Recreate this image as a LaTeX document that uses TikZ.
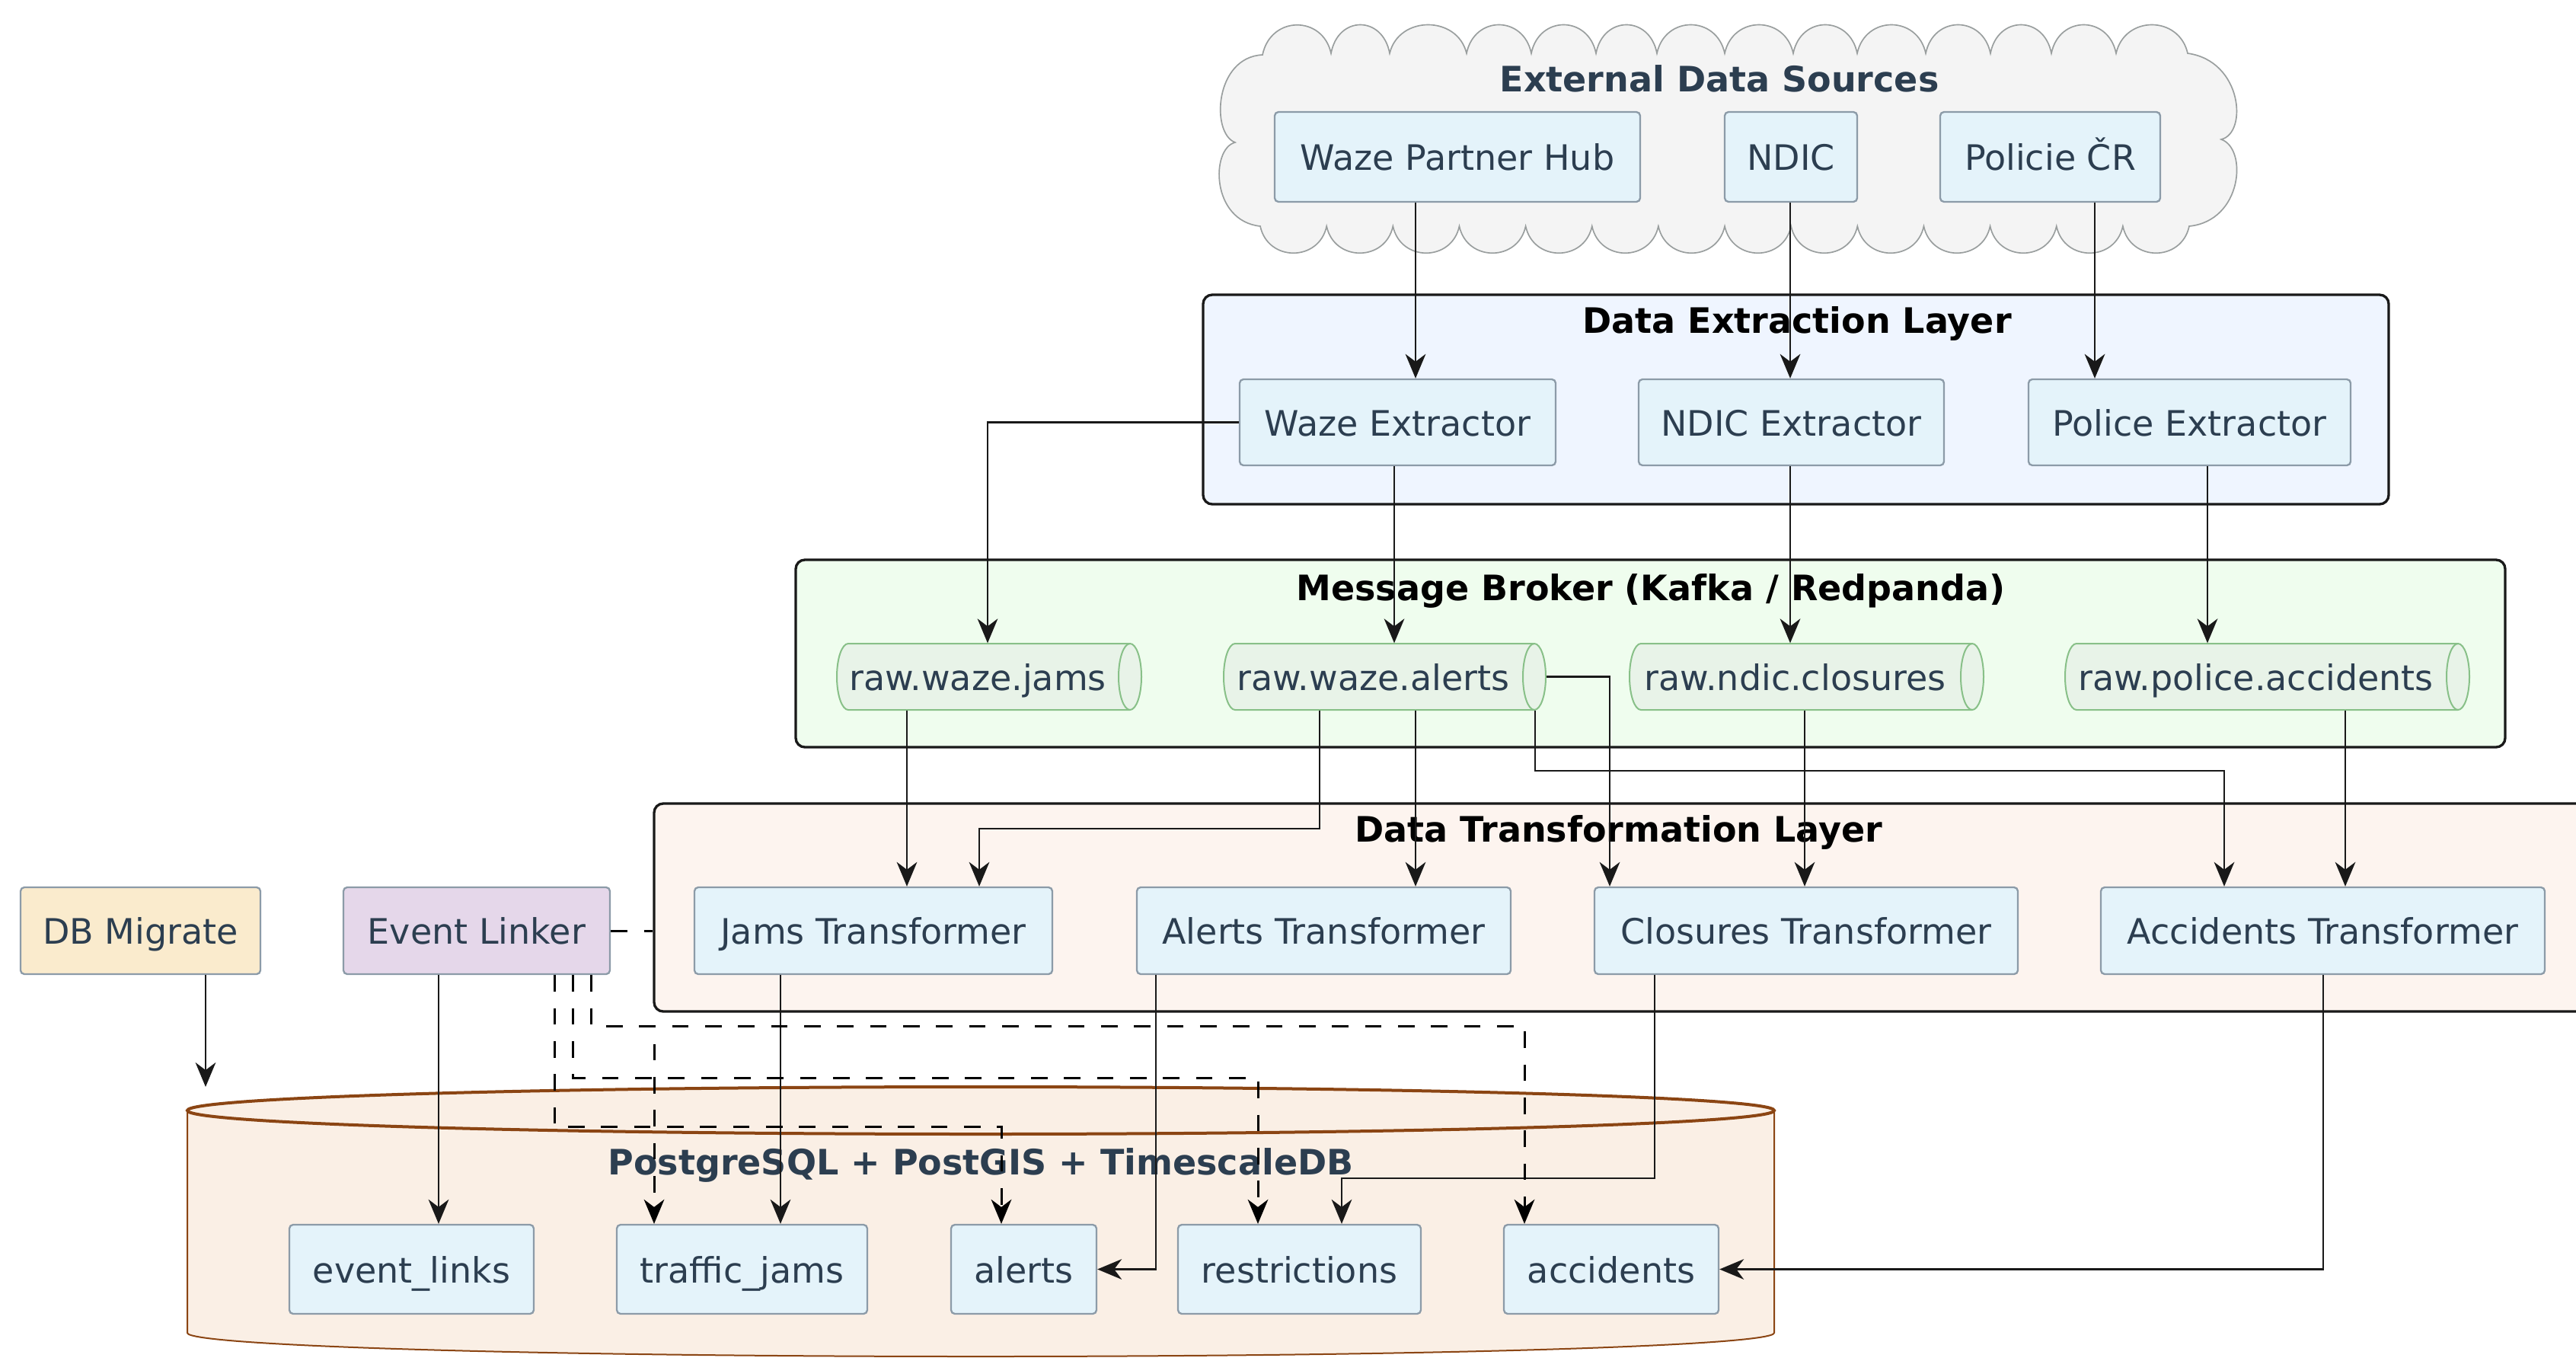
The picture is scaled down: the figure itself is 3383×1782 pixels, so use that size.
\documentclass[tikz,border=0pt]{standalone}
\usepackage{fontspec}
\setmainfont{DejaVu Sans}
\usetikzlibrary{arrows.meta}
\definecolor{txt}{HTML}{2C3E50}
\definecolor{nodefill}{HTML}{E4F3FA}
\definecolor{nodeborder}{HTML}{8C9BA8}
\definecolor{cloudfill}{HTML}{F4F4F4}
\definecolor{cloudline}{HTML}{999E9E}
\definecolor{extfill}{HTML}{EFF5FF}
\definecolor{brokerfill}{HTML}{EFFDEE}
\definecolor{queuefill}{HTML}{E8F3E8}
\definecolor{queueline}{HTML}{88C088}
\definecolor{transfill}{HTML}{FDF4EF}
\definecolor{migfill}{HTML}{FAEBCD}
\definecolor{linkfill}{HTML}{E5D7EA}
\definecolor{dbfill}{HTML}{FAEFE5}
\definecolor{dbline}{HTML}{8B4513}
\newcommand\bx[7]{\node[#1, minimum width={(#5-#3)*0.3pt}, minimum height={(#6-#4)*0.3pt}] (#2) at ({(#3+#5)/2},{(#4+#6)/2}) {#7};}
\newcommand\queue[4]{%
  \filldraw[fill=queuefill, draw=queueline, line width=0.6pt]
    ({#2+15},845) -- ({#3-15},845) arc[start angle=90, end angle=-90, x radius=4.5pt, y radius=13.05pt]
    -- ({#2+15},932) arc[start angle=270, end angle=90, x radius=4.5pt, y radius=13.05pt] -- cycle;
  \draw[draw=queueline, line width=0.6pt] ({#3-15},845) arc[start angle=90, end angle=270, x radius=4.5pt, y radius=13.05pt];
  \node[qtext, minimum width={(#3-#2-30)*0.3pt}, minimum height={87*0.3pt}] (#1) at ({(#2+#3-30)/2},888.5) {#4};}
\begin{document}
\begin{tikzpicture}[x=0.3pt,y=-0.3pt,
  box/.style={draw=nodeborder, fill=nodefill, line width=0.7pt, rounded corners=1.5pt, text=txt, font=\fontsize{13.8}{16}\selectfont, inner sep=0pt, text height=11.8pt, text depth=1.2pt},
  qtext/.style={inner sep=0pt, text=txt, font=\fontsize{13.8}{16}\selectfont, text height=11.8pt, text depth=1.2pt},
  arr/.style={draw=black!90, line width=0.8pt, -{Stealth[length=9.6pt,width=8pt,inset=3pt]}},
  dsh/.style={arr, draw=black, line width=0.9pt, dash pattern=on 6.5pt off 6.5pt},
  pkg/.style={draw=black!90, line width=1pt, rounded corners=3.6pt, inner sep=0pt},
  ptitle/.style={font=\fontsize{13.8}{16}\selectfont\bfseries, text=black, inner sep=0pt, text height=11.8pt, text depth=1.2pt},
]
\useasboundingbox (0,0) rectangle (3383,1782);
\fill[white] (0,0) rectangle (3383,1782);

% ---- cloud
\filldraw[fill=cloudfill, draw=cloudline, line width=0.5pt]
  (1658,72)
  foreach \a/\b in {1658/1748,1748/1825,1825/1926,1926/2011,2011/2096,2096/2176,2176/2265,2265/2355,2355/2439,2439/2529,2529/2614,2614/2694,2694/2779,2779/2873}
    { .. controls ({\a+0.12*(\b-\a)},20) and ({\b-0.12*(\b-\a)},20) .. (\b,70) }
  .. controls (2945,80) and (2952,175) .. (2917,183)
  .. controls (2952,195) and (2945,290) .. (2875,297)
  foreach \i in {0,...,13}
    { .. controls ({2875-\i*87.14-10},344) and ({2875-(\i+1)*87.14+10},344) .. ({2875-(\i+1)*87.14},297) }
  .. controls (1590,290) and (1590,195) .. (1622,187)
  .. controls (1590,175) and (1595,75) .. (1658,72) -- cycle;
\node[ptitle, text=txt] (exttitle) at (2258,103) {External Data Sources};
\bx{box}{hub}{1674}{147}{2154}{265}{Waze Partner Hub}
\bx{box}{ndic}{2265}{147}{2439}{265}{NDIC}
\bx{box}{pol}{2548}{147}{2837}{265}{Policie ČR}

% ---- extraction layer
\bx{pkg, fill=extfill}{extl}{1580}{387}{3137}{662}{}
\node[ptitle] (extltitle) at (2360,420) {Data Extraction Layer};
\bx{box}{wext}{1628}{498}{2043}{611}{Waze Extractor}
\bx{box}{next}{2152}{498}{2553}{611}{NDIC Extractor}
\bx{box}{pext}{2664}{498}{3087}{611}{Police Extractor}

% ---- broker
\bx{pkg, fill=brokerfill}{broker}{1045}{735}{3290}{981}{}
\node[ptitle] (brokertitle) at (2168,771) {Message Broker (Kafka / Redpanda)};
\queue{qjams}{1099}{1499}{raw.waze.jams}
\queue{qalerts}{1607}{2030}{raw.waze.alerts}
\queue{qclos}{2140}{2605}{raw.ndic.closures}
\queue{qacc}{2712}{3243}{raw.police.accidents}

% ---- transformation layer
\bx{pkg, fill=transfill}{trans}{859}{1055}{3400}{1328}{}
\node[ptitle] (transtitle) at (2126,1088) {Data Transformation Layer};
\bx{box}{jtr}{912}{1165}{1382}{1279}{Jams Transformer}
\bx{box}{atr}{1493}{1165}{1984}{1279}{Alerts Transformer}
\bx{box}{ctr}{2094}{1165}{2650}{1279}{Closures Transformer}
\bx{box}{actr}{2759}{1165}{3342}{1279}{Accidents Transformer}

\bx{box, fill=migfill}{dbm}{27}{1165}{342}{1279}{DB Migrate}
\bx{box, fill=linkfill}{evl}{451}{1165}{801}{1279}{Event Linker}

% ---- database
\fill[dbfill] (246,1458) -- (246,1750) arc[start angle=180, end angle=360, x radius=312.6pt, y radius=9.3pt] -- (2330,1458) -- cycle;
\draw[dbline, line width=0.6pt] (246,1458) -- (246,1750) arc[start angle=180, end angle=360, x radius=312.6pt, y radius=9.3pt] -- (2330,1458);
\draw[dbline, line width=1.2pt, fill=dbfill] (1288,1458) ellipse[x radius=312.6pt, y radius=9.3pt];
\coordinate (dbtop) at (1288,1427);
\node[ptitle, text=txt] (dbtitle) at (1288,1525) {PostgreSQL + PostGIS + TimescaleDB};
\bx{box}{tev}{380}{1608}{701}{1725}{event\_links}
\bx{box}{ttj}{810}{1608}{1139}{1725}{traffic\_jams}
\bx{box}{tal}{1249}{1608}{1440}{1725}{alerts}
\bx{box}{tre}{1547}{1608}{1866}{1725}{restrictions}
\bx{box}{tac}{1975}{1608}{2257}{1725}{accidents}

% ---- connectors
\draw[arr] (hub.south -| 1859,0) -- (wext.north -| 1859,0);
\draw[arr] (ndic.south -| 2351,0) -- (next.north -| 2351,0);
\draw[arr] (pol.south -| 2751,0) -- (pext.north -| 2751,0);
\draw[arr] (wext.west) -| (qjams.north -| 1297,0);
\draw[arr] (wext.south -| 1831,0) -- (qalerts.north -| 1831,0);
\draw[arr] (next.south -| 2351,0) -- (qclos.north -| 2351,0);
\draw[arr] (pext.south -| 2899,0) -- (qacc.north -| 2899,0);

\draw[arr] (qjams.south -| 1191,0) -- (jtr.north -| 1191,0);
\draw[arr] (qalerts.south -| 1733,0) |- (1286,1088) -- (jtr.north -| 1286,0);
\draw[arr] (qalerts.south -| 1859,0) -- (atr.north -| 1859,0);
\draw[arr] ([xshift=9pt]qalerts.east) -| (ctr.north -| 2114,0);
\draw[arr] (qalerts.south -| 2016,0) |- (2921,1012) -- (actr.north -| 2921,0);
\draw[arr] (qclos.south -| 2370,0) -- (ctr.north -| 2370,0);
\draw[arr] (qacc.south -| 3080,0) -- (actr.north -| 3080,0);

\draw[black, line width=0.9pt, dash pattern=on 6.5pt off 6.5pt] (evl.east) -- (evl.east -| trans.west);
\draw[arr] (dbm.south -| 270,0) -- (dbtop -| 270,0);
\draw[arr] (evl.south -| 576,0) -- (tev.north -| 576,0);
\draw[arr] (jtr.south -| 1025,0) -- (ttj.north -| 1025,0);
\draw[arr] (atr.south -| 1518,0) |- (tal.east);
\draw[arr] (ctr.south -| 2173,0) |- (1762,1547) -- (tre.north -| 1762,0);
\draw[arr] (actr.south -| 3051,0) |- (tac.east);

\draw[dsh] (evl.south -| 728,0) |- (1315,1479) -- (tal.north -| 1315,0);
\draw[dsh] (evl.south -| 752,0) |- (1652,1415) -- (tre.north -| 1652,0);
\draw[dsh] (evl.south -| 776,0) |- (859,1347) -- (ttj.north -| 859,0);
\draw[dsh] (evl.south -| 776,0) |- (2002,1347) -- (tac.north -| 2002,0);
\end{tikzpicture}
\end{document}
